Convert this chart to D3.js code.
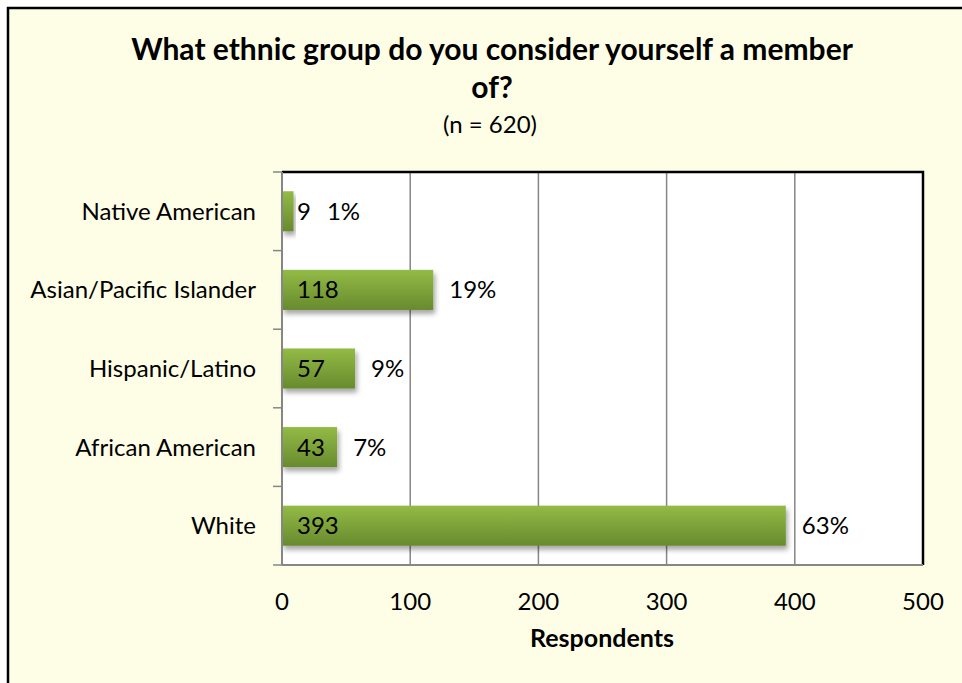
<!DOCTYPE html>
<html><head><meta charset="utf-8">
<script src="https://cdn.jsdelivr.net/npm/d3@7"></script>
<style>body{margin:0;background:#fff}svg{display:block;font-family:Lato,"Open Sans",sans-serif}</style>
</head><body>
<svg id="c" width="962" height="683"></svg>
<script>
const categories = ["Native American","Asian/Pacific Islander","Hispanic/Latino","African American","White"];
const values = [9,118,57,43,393];
const percents = ["1%","19%","9%","7%","63%"];
const xTicks = [0,100,200,300,400,500];
const titleLines = ["What ethnic group do you consider yourself a member","of?"];
const subtitle = "(n = 620)";
const xTitle = "Respondents";

const svg = d3.select("#c");
const defs = svg.append("defs");
const g1 = defs.append("linearGradient").attr("id","bar").attr("x1",0).attr("y1",0).attr("x2",0).attr("y2",1);
g1.append("stop").attr("offset","0%").attr("stop-color","#93bb46");
g1.append("stop").attr("offset","100%").attr("stop-color","#688a2e");
const f = defs.append("filter").attr("id","sh").attr("x","-10%").attr("y","-20%").attr("width","130%").attr("height","160%");
f.append("feDropShadow").attr("dx",2).attr("dy",4).attr("stdDeviation",2.5).attr("flood-color","#000").attr("flood-opacity",0.35);

// frame
svg.append("rect").attr("x",8).attr("y",8).attr("width",970).attr("height",690)
  .attr("fill","#fefee6").attr("stroke","#000").attr("stroke-width",2.5);

const L=282, R=923, T=172, B=565;
const x = d3.scaleLinear().domain([0,500]).range([L,R]);
const y = d3.scaleBand().domain(categories).range([T,B]).paddingInner(0.49).paddingOuter(0.245);
const yb = d3.scaleBand().domain(categories).range([T,B]);

svg.append("rect").attr("x",L).attr("y",T).attr("width",R-L).attr("height",B-T).attr("fill","#fff");

// gridlines
svg.append("g").selectAll("line").data(xTicks.slice(1,-1)).join("line")
  .attr("x1",d=>x(d)).attr("x2",d=>x(d)).attr("y1",T).attr("y2",B)
  .attr("stroke","#868686").attr("stroke-width",1.5);

// bars
svg.append("g").selectAll("rect").data(values).join("rect")
  .attr("x",x(0)).attr("y",(d,i)=>y(categories[i])).attr("width",d=>x(d)-x(0))
  .attr("height",y.bandwidth()).attr("fill","url(#bar)").attr("filter","url(#sh)");

// plot border top/right
svg.append("path").attr("d",`M${L},${T}H${R}V${B}`).attr("fill","none").attr("stroke","#000").attr("stroke-width",2.5);

// axes
svg.append("line").attr("x1",L).attr("x2",R).attr("y1",B).attr("y2",B).attr("stroke","#868686").attr("stroke-width",2);
svg.append("line").attr("x1",L).attr("x2",L).attr("y1",T).attr("y2",B).attr("stroke","#868686").attr("stroke-width",2);
const tickYs = categories.map(c=>yb(c)).concat([B]);
svg.append("g").selectAll("line").data(tickYs).join("line")
  .attr("x1",273).attr("x2",L).attr("y1",d=>d).attr("y2",d=>d).attr("stroke","#868686").attr("stroke-width",1.5);

const FS = 24;
// x tick labels
svg.append("g").selectAll("text").data(xTicks).join("text")
  .attr("x",d=>x(d)).attr("y",610).attr("text-anchor","middle").attr("font-size",FS).text(d=>d);

// category labels
svg.append("g").selectAll("text").data(categories).join("text")
  .attr("x",256).attr("y",d=>y(d)+y.bandwidth()/2).attr("dy","0.35em")
  .attr("text-anchor","end").attr("font-size",FS).text(d=>d);

// value labels
const vl = svg.append("g").selectAll("text").data(values).join("text")
  .attr("x",x(0)+15).attr("y",(d,i)=>y(categories[i])+y.bandwidth()/2).attr("dy","0.35em")
  .attr("font-size",FS).text(d=>d);
const vEnds = vl.nodes().map(n=>n.getBBox().x+n.getBBox().width);
svg.append("g").selectAll("text").data(percents).join("text")
  .attr("x",(d,i)=>Math.max(x(values[i])+16, vEnds[i]+16))
  .attr("y",(d,i)=>y(categories[i])+y.bandwidth()/2).attr("dy","0.35em")
  .attr("font-size",FS).text(d=>d);

// titles
svg.append("g").selectAll("text").data(titleLines).join("text")
  .attr("x",492).attr("y",(d,i)=>60+i*38).attr("text-anchor","middle")
  .attr("font-size",30).attr("font-weight","bold").text(d=>d);
svg.append("text").attr("x",490).attr("y",133).attr("text-anchor","middle").attr("font-size",FS).text(subtitle);
svg.append("text").attr("x",602).attr("y",647).attr("text-anchor","middle").attr("font-size",25).attr("font-weight","bold").text(xTitle);
</script>
</body></html>
